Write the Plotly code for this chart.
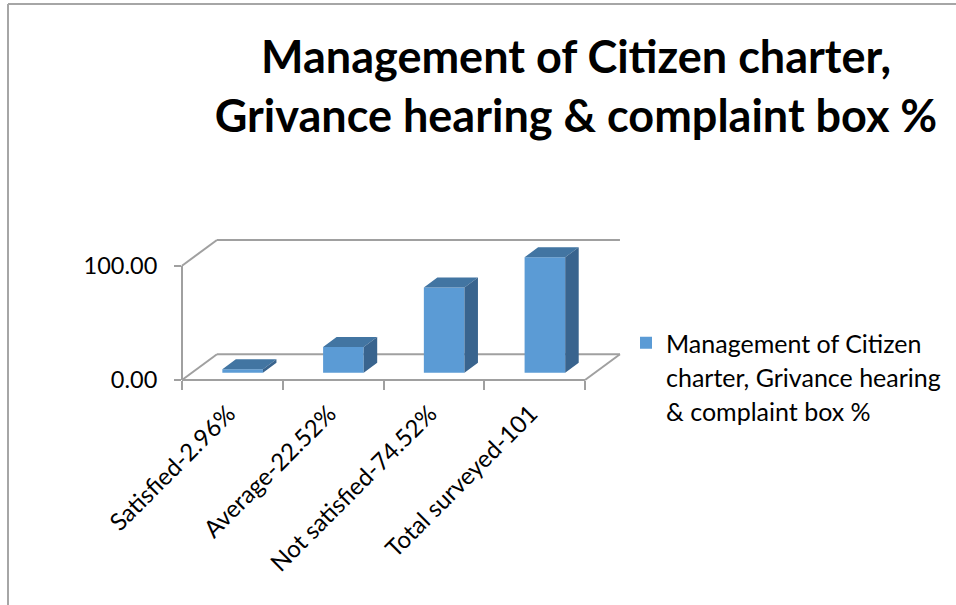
import plotly.graph_objects as go

categories = ["Satisfied-2.96%", "Average-22.52%", "Not satisfied-74.52%", "Total surveyed-101"]
values = [2.96, 22.52, 74.52, 101]
title_lines = ["Management of Citizen charter,", "Grivance hearing & complaint box %"]
legend_lines = ["Management of Citizen", "charter, Grivance hearing", "& complaint box %"]

FONT = "Lato"
XMAX, YMAX = 4.397, 122.5
WALL_DX, WALL_DY = 0.347, 22.5
BAR_W, BAR_SHIFT, BAR_BASE = 0.403, 0.102, 6.4
BAR_DX, BAR_DY = 0.134, 8.75
FRONT, TOP, SIDE = "#5b9bd5", "#4275a2", "#39648e"
GRID = "#a0a0a0"

xc = [i + 0.5 + BAR_SHIFT for i in range(len(values))]
top_x, top_y, side_x, side_y = [], [], [], []
for c, v in zip(xc, values):
    l, r = c - BAR_W / 2, c + BAR_W / 2
    t = BAR_BASE + v
    top_x += [l, r, r + BAR_DX, l + BAR_DX, l, None]
    top_y += [t, t, t + BAR_DY, t + BAR_DY, t, None]
    side_x += [r, r + BAR_DX, r + BAR_DX, r, r, None]
    side_y += [BAR_BASE, BAR_BASE + BAR_DY, t + BAR_DY, t, BAR_BASE, None]

fig = go.Figure()
fig.add_bar(x=xc, y=values, base=BAR_BASE, width=BAR_W, marker=dict(color=FRONT, line=dict(width=0)),
            name=legend_lines[0], hovertext=categories)
fig.add_scatter(x=top_x, y=top_y, fill="toself", mode="none", fillcolor=TOP, showlegend=False, hoverinfo="skip")
fig.add_scatter(x=side_x, y=side_y, fill="toself", mode="none", fillcolor=SIDE, showlegend=False, hoverinfo="skip")


def seg(x0, y0, x1, y1):
    return dict(type="line", xref="paper", yref="paper", layer="below",
                x0=x0 / XMAX, y0=y0 / YMAX, x1=x1 / XMAX, y1=y1 / YMAX,
                line=dict(color=GRID, width=2))


shapes = [
    seg(0, 0, 0, 100),
    seg(0, 100, WALL_DX, 100 + WALL_DY),
    seg(WALL_DX, 100 + WALL_DY, 4 + WALL_DX, 100 + WALL_DY),
    seg(0, 0, 4, 0),
    seg(0, 0, WALL_DX, WALL_DY),
    seg(WALL_DX, WALL_DY, 4 + WALL_DX, WALL_DY),
    seg(4, 0, 4 + WALL_DX, WALL_DY),
]
L, T, W, H = 182, 240, 443, 140
for a, b, c, d in [(8, 4, 956, 4), (8, 4, 8, 605)]:
    shapes.append(dict(type="line", xref="paper", yref="paper", layer="below",
                       x0=(a - L) / W, x1=(c - L) / W, y0=1 - (b - T) / H, y1=1 - (d - T) / H,
                       line=dict(color="#a6a6a6", width=2)))

fig.update_layout(
    width=956, height=605,
    margin=dict(l=L, t=T, r=956 - L - W, b=605 - T - H, autoexpand=False),
    paper_bgcolor="white", plot_bgcolor="rgba(0,0,0,0)",
    font=dict(family=FONT, color="#000000"),
    shapes=shapes,
    title=dict(text="<b>" + "<br>".join(title_lines) + "</b>",
               font=dict(family=FONT, size=45, color="#000000"),
               xref="paper", yref="container", x=(576 - L) / W, xanchor="center",
               y=1 - 73 / 605, yanchor="top"),
    xaxis=dict(range=[0, XMAX], showgrid=False, zeroline=False, showline=False,
               tickmode="array", tickvals=[i + 0.5 for i in range(len(categories))], ticktext=categories,
               ticks="", tickangle=-45, tickfont=dict(family=FONT, size=24, color="#000000"),
               ticklabelstandoff=14, ticklabelshift=-4,
               minor=dict(tickmode="array", tickvals=[0, 1, 2, 3, 4], ticks="outside", ticklen=9,
                          tickwidth=1.5, tickcolor=GRID, showgrid=False)),
    yaxis=dict(range=[0, YMAX], showgrid=False, zeroline=False, showline=False,
               tickmode="array", tickvals=[0, 100], tickformat=".2f", ticks="outside", ticklen=7,
               tickwidth=1.5, tickcolor=GRID, ticklabelstandoff=12,
               tickfont=dict(family=FONT, size=23.5, color="#000000")),
    legend=dict(x=(626 - L) / W, y=1 - (320 - T) / H, xanchor="left", yanchor="top",
                font=dict(family=FONT, size=25, color="#000000"), bgcolor="rgba(0,0,0,0)",
                itemclick=False, itemdoubleclick=False),
    annotations=[dict(text="<span style='font-size:25px'>" + "<br>".join(legend_lines[1:]) + "</span>",
                      xref="paper", yref="paper", x=(664 - L) / W, y=1 - (360 - T) / H,
                      xanchor="left", yanchor="top", align="left", showarrow=False,
                      font=dict(family=FONT, size=26, color="#000000"))],
)
fig.write_html("out.html", post_script="document.body.style.margin='0';",
               config={"displayModeBar": False})
